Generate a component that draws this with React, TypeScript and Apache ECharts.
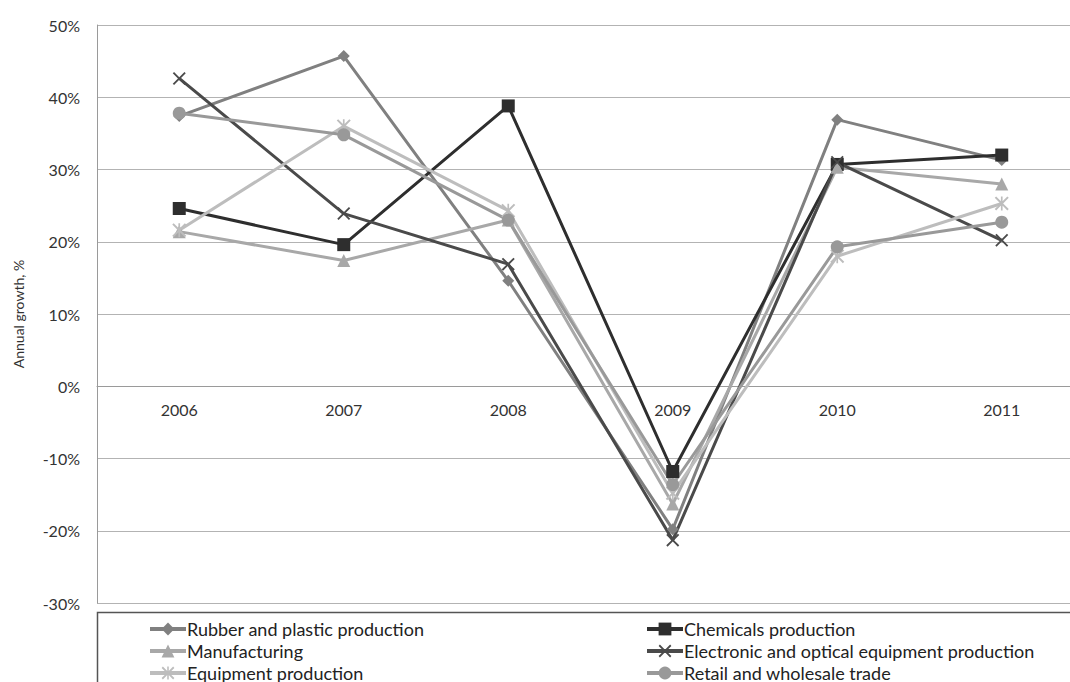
import React, { useEffect, useRef } from "react";
import * as echarts from "echarts";

// Years on the category axis
const years = ["2006", "2007", "2008", "2009", "2010", "2011"];

// Annual growth by sector, %
const rubberPlastic = [37.4, 45.7, 14.6, -19.8, 36.9, 31.3];
const chemicals = [24.6, 19.6, 38.8, -11.8, 30.7, 32.0];
const manufacturing = [21.4, 17.4, 23.0, -16.3, 30.3, 28.0];
const electronicOptical = [42.6, 23.9, 16.9, -21.3, 31.0, 20.2];
const equipment = [21.6, 36.0, 24.3, -14.8, 18.0, 25.3];
const retailWholesale = [37.8, 34.8, 23.0, -13.6, 19.3, 22.7];

const seriesNames = [
  "Rubber and plastic production",
  "Chemicals production",
  "Manufacturing",
  "Electronic and optical equipment production",
  "Equipment production",
  "Retail and wholesale trade",
];

// Filled outlines for the cross and asterisk markers
const CROSS =
  "path://M0,1L1,0L5,4L9,0L10,1L6,5L10,9L9,10L5,6L1,10L0,9L4,5Z";
const ASTERISK =
  "path://M0,1L1,0L5,4L9,0L10,1L6,5L10,9L9,10L5,6L1,10L0,9L4,5Z M4.4,0L5.6,0L5.6,10L4.4,10Z";

const FONT = "Lato, 'Open Sans', sans-serif";

// Plot geometry: y range -30..50 drawn over 578 px, so 0% sits 215 px above the bottom
const PLOT_TOP = 25;
const PLOT_HEIGHT = 578;
const Y_MIN = -30;
const Y_MAX = 50;
const ZERO_OFFSET = -Math.round((PLOT_HEIGHT * (0 - Y_MIN)) / (Y_MAX - Y_MIN));

export default function App() {
  const ref = useRef<HTMLDivElement>(null);

  useEffect(() => {
    if (!ref.current) return;
    const chart = echarts.init(ref.current, null, { renderer: "svg" });

    const mk = (
      name: string,
      data: number[],
      color: string,
      symbol: string,
      symbolSize: number
    ) => ({
      name,
      type: "line",
      data,
      symbol,
      symbolSize,
      showSymbol: true,
      lineStyle: { color, width: 3 },
      itemStyle: { color, borderWidth: 0 },
      emphasis: { disabled: true },
    });

    const legendBase = {
      orient: "vertical",
      top: 615,
      itemWidth: 36,
      itemHeight: 16,
      itemGap: 4,
      lineStyle: { width: 4 },
      textStyle: { color: "#222", fontSize: 18, fontFamily: FONT, padding: [0, 0, 0, -4] },
    };

    chart.setOption({
      animation: false,
      backgroundColor: "#ffffff",
      textStyle: { fontFamily: FONT },
      grid: { left: 97, top: PLOT_TOP, width: 987, height: PLOT_HEIGHT },
      xAxis: {
        type: "category",
        data: years,
        boundaryGap: true,
        offset: ZERO_OFFSET,
        axisLine: { onZero: false, lineStyle: { color: "#9a9a9a", width: 1 } },
        axisTick: { show: false },
        axisLabel: { color: "#333", fontSize: 16, margin: 15, fontFamily: FONT },
      },
      yAxis: {
        type: "value",
        min: Y_MIN,
        max: Y_MAX,
        interval: 10,
        name: "Annual growth, %",
        nameLocation: "middle",
        nameGap: 72,
        nameTextStyle: { color: "#333", fontSize: 14, fontFamily: FONT },
        axisLine: { show: true, lineStyle: { color: "#9a9a9a", width: 1 } },
        axisTick: { show: false },
        axisLabel: {
          formatter: "{value}%",
          color: "#333",
          fontSize: 16,
          margin: 17,
          fontFamily: FONT,
        },
        splitLine: { lineStyle: { color: "#b3b3b3", width: 1 } },
      },
      legend: [
        {
          ...legendBase,
          data: [seriesNames[0], seriesNames[2], seriesNames[4]],
          left: 143,
        },
        {
          ...legendBase,
          data: [seriesNames[1], seriesNames[3], seriesNames[5]],
          left: 640,
        },
      ],
      graphic: [
        {
          type: "rect",
          shape: { x: 97.5, y: 612.5, width: 1000, height: 120 },
          style: { fill: "none", stroke: "#555", lineWidth: 1.5 },
          silent: true,
        },
      ],
      series: [
        mk(seriesNames[0], rubberPlastic, "#808080", "diamond", 12),
        mk(seriesNames[1], chemicals, "#2e2e2e", "rect", 13),
        mk(seriesNames[2], manufacturing, "#a8a8a8", "triangle", 13),
        mk(seriesNames[3], electronicOptical, "#4a4a4a", CROSS, 13),
        mk(seriesNames[4], equipment, "#bdbdbd", ASTERISK, 14),
        mk(seriesNames[5], retailWholesale, "#999999", "circle", 13),
      ],
    });

    return () => chart.dispose();
  }, []);

  return (
    <div
      style={{
        position: "fixed",
        left: 0,
        top: 0,
        width: 1070,
        height: 682,
        overflow: "hidden",
        background: "#fff",
      }}
    >
      <div ref={ref} style={{ width: 1100, height: 700 }} />
    </div>
  );
}
